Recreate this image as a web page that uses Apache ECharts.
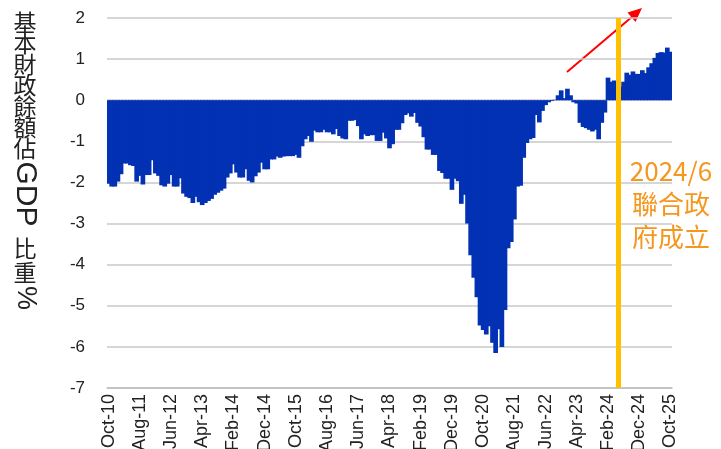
<!DOCTYPE html>
<html>
<head>
<meta charset="utf-8">
<script src="https://cdn.jsdelivr.net/npm/echarts@6/dist/echarts.min.js"></script>
<style>
  html, body { margin: 0; padding: 0; background: #fff; }
  #chart { width: 721px; height: 449px; }
</style>
</head>
<body>
<div id="chart"></div>
<script>
// 月份：2010年10月 ~ 2025年10月
const monthNames = ['Jan', 'Feb', 'Mar', 'Apr', 'May', 'Jun', 'Jul', 'Aug', 'Sep', 'Oct', 'Nov', 'Dec']
const startYear = 2010
const startMonth = 9 // Oct
const monthCount = 181

// 基本財政餘額佔GDP比重(%)，每行12個月，從 Oct-10 起
const balance = [
  -2.03, -2.10, -2.10, -1.98, -1.80, -1.54, -1.54, -1.58, -1.60, -1.98, -1.84, -2.05,
  -1.82, -1.82, -1.46, -1.78, -1.84, -2.07, -2.10, -2.03, -1.82, -2.10, -2.10, -1.90,
  -2.27, -2.35, -2.38, -2.50, -2.35, -2.48, -2.55, -2.50, -2.45, -2.40, -2.30, -2.25,
  -2.20, -2.15, -1.88, -1.78, -1.56, -1.76, -1.88, -1.88, -1.68, -1.96, -2.00, -1.85,
  -1.76, -1.52, -1.68, -1.68, -1.44, -1.44, -1.37, -1.40, -1.37, -1.36, -1.36, -1.36,
  -1.33, -1.40, -1.12, -0.95, -0.87, -1.01, -0.74, -0.78, -0.78, -0.72, -0.78, -0.78,
  -0.83, -0.70, -0.87, -0.93, -0.95, -0.50, -0.50, -0.48, -0.63, -0.95, -0.83, -0.87,
  -0.85, -0.85, -0.99, -0.99, -0.79, -0.93, -1.17, -1.07, -0.72, -0.72, -0.56, -0.36,
  -0.32, -0.40, -0.31, -0.55, -0.64, -0.90, -1.20, -1.20, -1.33, -1.33, -1.72, -1.77,
  -1.91, -1.91, -2.18, -1.91, -1.97, -2.52, -2.30, -3.00, -3.77, -4.32, -4.79, -5.48,
  -5.59, -5.70, -5.50, -5.90, -6.15, -5.57, -6.00, -5.10, -3.60, -3.45, -2.90, -2.10,
  -2.08, -1.40, -1.04, -0.95, -0.92, -0.36, -0.54, -0.26, -0.12, -0.05, -0.02, 0.01,
  0.12, 0.24, 0.05, 0.28, 0.12, -0.05, -0.08, -0.55, -0.65, -0.68, -0.72, -0.76,
  -0.72, -0.95, -0.55, -0.30, 0.55, 0.45, 0.48, 0.40, 0.33, 0.45, 0.67, 0.62,
  0.70, 0.64, 0.64, 0.73, 0.66, 0.80, 0.90, 1.03, 1.15, 1.17, 1.16, 1.28,
  1.18
]

// 聯合政府成立 (2024/6)，以月序位置表示
const eventIndex = 163.4
const eventText = ['2024/6', '聯合政', '府成立']

const yTitleChars = ['基', '本', '財', '政', '餘', '額', '佔']

const categories = []
for (let i = 0; i < monthCount; i++) {
  const m = (startMonth + i) % 12
  const y = startYear + Math.floor((startMonth + i) / 12)
  categories.push(monthNames[m] + '-' + String(y % 100).padStart(2, '0'))
}

const cjk = '"Noto Sans CJK TC", "Noto Sans CJK SC", sans-serif'
const latin = '"Liberation Sans", Arial, sans-serif'
const barColor = '#0231b4'

// 縱軸標題：中文直排，英文/符號旋轉
const titleGraphics = yTitleChars.map((c, i) => ({
  type: 'text',
  x: 25, y: 22.5 + i * 21,
  style: { text: c, font: '23px ' + cjk, fill: '#222', align: 'center', verticalAlign: 'middle' }
}))
titleGraphics.push(
  { type: 'text', x: 25, y: 194, rotation: -Math.PI / 2,
    style: { text: 'GDP', font: '30px ' + latin, fill: '#222', align: 'center', verticalAlign: 'middle' } },
  { type: 'text', x: 25, y: 248,
    style: { text: '比', font: '23px ' + cjk, fill: '#222', align: 'center', verticalAlign: 'middle' } },
  { type: 'text', x: 25, y: 272,
    style: { text: '重', font: '23px ' + cjk, fill: '#222', align: 'center', verticalAlign: 'middle' } },
  { type: 'text', x: 25, y: 298, rotation: -Math.PI / 2,
    style: { text: '%', font: '27px ' + latin, fill: '#222', align: 'center', verticalAlign: 'middle' } }
)

const chart = echarts.init(document.getElementById('chart'))
chart.setOption({
  animation: false,
  grid: { left: 107, right: 49, top: 18, bottom: 61, outerBoundsMode: 'none' },
  xAxis: [{
    type: 'category',
    data: categories,
    axisLine: { onZero: false, lineStyle: { color: '#bfbfbf', width: 1.5 } },
    axisTick: { show: false },
    axisLabel: {
      interval: 9, rotate: 90, margin: 6,
      fontSize: 18, color: '#222', fontFamily: latin
    }
  }, {
    // 隱藏的數值軸，用來放事件線
    type: 'value',
    min: -0.5, max: monthCount - 0.5,
    show: false
  }],
  yAxis: {
    type: 'value',
    min: -7, max: 2, interval: 1,
    axisLine: { show: false },
    axisTick: { show: false },
    axisLabel: { fontSize: 17, color: '#222', fontFamily: latin, margin: 22 },
    splitLine: { lineStyle: { color: '#c8c8c8', width: 1.5 } }
  },
  series: [{
    type: 'bar',
    data: balance,
    barWidth: '150%',
    itemStyle: { color: barColor }
  }, {
    type: 'line',
    xAxisIndex: 1,
    data: [],
    markLine: {
      silent: true,
      symbol: 'none',
      label: { show: false },
      lineStyle: { color: '#FFC000', width: 5, type: 'solid' },
      data: [{ xAxis: eventIndex }]
    }
  }],
  graphic: titleGraphics.concat([
    {
      type: 'text', x: 671, y: 155,
      style: {
        text: eventText.join('\n'), font: '26px ' + cjk, lineHeight: 33,
        fill: '#F5961E', align: 'center', verticalAlign: 'top'
      }
    },
    {
      type: 'line',
      shape: { x1: 567, y1: 72, x2: 633, y2: 16 },
      style: { stroke: '#ff0000', lineWidth: 2 }
    },
    {
      type: 'polygon',
      shape: { points: [[642, 8], [635.5, 22], [627.5, 12.5]] },
      style: { fill: '#ff0000' }
    }
  ])
})
</script>
</body>
</html>
